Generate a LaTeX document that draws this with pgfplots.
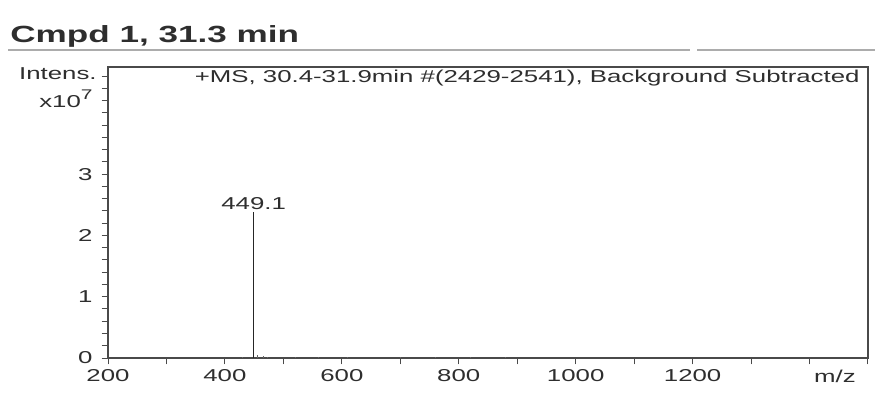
\documentclass[border=0pt]{standalone}
\usepackage{fontspec}
\setmainfont[FakeStretch=1.5]{Liberation Sans}
\usepackage{pgfplots}
\pgfplotsset{compat=1.18}
\definecolor{txt}{HTML}{2E2E2E}
\definecolor{axl}{HTML}{4A4A4A}
\begin{document}
\begin{tikzpicture}
\useasboundingbox (0pt,0pt) rectangle (437.5pt,196pt);
\node[anchor=base west, inner sep=0pt, text=txt, font=\fontsize{11.7}{14}\selectfont\bfseries] at (5pt,175pt) {Cmpd 1, 31.3 min};
\draw[gray!65, line width=0.9pt] (4pt,171pt) -- (345pt,171pt);
\draw[gray!65, line width=0.9pt] (348.5pt,171pt) -- (437.5pt,171pt);
\begin{axis}[
  at={(54pt,17pt)}, anchor=south west,
  scale only axis, width=380pt, height=145.5pt,
  xmin=200, xmax=1500, ymin=0, ymax=4.75,
  axis line style={axl, line width=0.6pt},
  tick align=outside, xtick pos=left, ytick pos=left,
  xtick={200,400,600,800,1000,1200},
  minor xtick={300,500,700,900,1100,1300,1400,1500},
  ytick={0,1,2,3},
  minor ytick={0.2,0.4,0.6,0.8,1.2,1.4,1.6,1.8,2.2,2.4,2.6,2.8,3.2,3.4,3.6,3.8,4.0,4.2,4.4,4.6},
  major tick length=3.2pt, minor tick length=3.2pt,
  every tick/.style={axl, line width=0.5pt},
  tick label style={font=\fontsize{8.6}{10}\selectfont, text=txt},
  /pgf/number format/assume math mode=true,
  /pgf/number format/1000 sep={},
  xticklabel style={yshift=1pt},
  yticklabel style={xshift=-1pt},
  clip=false,
]
\addplot[ycomb, no marks, color=black!85, line width=0.8pt] coordinates {
(449.1,2.38)
};
\addplot[ycomb, no marks, color=black!60, line width=0.4pt] coordinates {
(430,0.02) (456,0.05) (465,0.03) (472,0.02) (520,0.015) (560,0.02) (610,0.015) (700,0.012) (760,0.015) (820,0.012) (880,0.01)
};
\node[anchor=south, text=txt, font=\fontsize{8.6}{10}\selectfont, inner sep=1pt] at (axis cs:449.1,2.38) {449.1};
\end{axis}
\node[anchor=east, text=txt, font=\fontsize{8.6}{10}\selectfont, inner sep=0pt] at (430pt,157pt) {+MS, 30.4-31.9min \#(2429-2541), Background Subtracted};
\node[anchor=east, text=txt, font=\fontsize{8.6}{10}\selectfont, inner sep=0pt] at (48.5pt,159pt) {Intens.};
\node[anchor=east, text=txt, font=\fontsize{8.6}{10}\selectfont, inner sep=0pt] at (46.5pt,146.5pt) {x10\raisebox{0.9ex}{\fontsize{7}{8}\selectfont 7}};
\node[text=txt, font=\fontsize{8.6}{10}\selectfont, inner sep=0pt] at (417.5pt,8pt) {m/z};
\end{tikzpicture}
\end{document}
